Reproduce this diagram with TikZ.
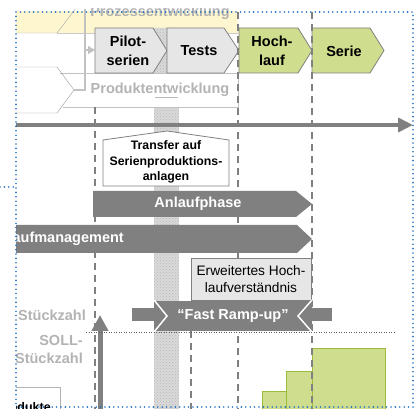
\documentclass[tikz,border=0pt]{standalone}
\usepackage{fontspec}
\setmainfont{Liberation Sans}
\usetikzlibrary{patterns}
\usetikzlibrary{calc}
\usetikzlibrary{arrows.meta}
\definecolor{dgray}{HTML}{808080}
\definecolor{lgray}{HTML}{B3B3B3}
\definecolor{boxgray}{HTML}{E6E6E6}
\definecolor{stagegreen}{HTML}{CFDD8E}
\definecolor{bargreen}{HTML}{9DBB3A}
\definecolor{pale}{HTML}{FDF6CE}
\definecolor{frameblue}{HTML}{1F6FC5}
\begin{document}
\begin{tikzpicture}[x=1pt,y=-1pt,
    stage/.style={draw=dgray,line width=0.8pt},
    big/.style={font=\bfseries\fontsize{14.5}{18.5}\selectfont,align=center,inner sep=0pt},
    small/.style={font=\bfseries\fontsize{12.3}{15.7}\selectfont,align=center,inner sep=0pt},
    milestone/.style={dgray,line width=1.3pt,dash pattern=on 7pt off 5pt}]
    \useasboundingbox (0,0) rectangle (416,409);
    \begin{scope}
        \clip (16,9) rectangle (416,409);
        \fill[pale] (10,11) rectangle (238,33);
        \draw[gray!70] (10,33) -- (57,33) -- (73,12) -- (75.3,9);
        \draw[lgray!70] (57,33) -- (238,33);
        \node[big,text=lgray,anchor=base] (prozess) at (160,16.7) {Prozessentwicklung};
        \fill[gray!30] (154,28) rectangle (179,409);
        \fill[pattern=crosshatch dots,pattern color=gray!55] (154,28) rectangle (179,409);
        \fill[white] (57,73) rectangle (238,107);
        \draw[gray!55] (155,97) -- (178,97);
        \draw[lgray!80] (60,73) -- (238,73) -- (238,107) -- (63,107);
        \draw[gray!80] (10,67) -- (57,67) -- (74,90) -- (57,113) -- (10,113);
        \coordinate (ltip) at (74,90);
        \coordinate (pilotin) at (95,50);
        \coordinate (bend) at (85,90);
        \draw[lgray!80,line width=1.5pt] (ltip) -- (bend) -- (85,9);
        \draw[lgray!80,line width=1.5pt,-{Triangle[length=7pt,width=8pt]}] (85,50) -- (pilotin);
        \node[big,text=lgray] (produkt) at (160,89.5) {Produktentwicklung};
        \draw[stage,fill=boxgray] (95,28) -- (153,28) -- (167,50.5) -- (153,73) -- (95,73) -- cycle;
        \draw[stage,fill=boxgray] (167,28) -- (224,28) -- (239,50.5) -- (224,73) -- (167,73) -- cycle;
        \draw[stage,fill=stagegreen] (239,28) -- (298,28) -- (312,50.5) -- (298,73) -- (239,73) -- cycle;
        \draw[stage,fill=stagegreen] (312,28) -- (370,28) -- (384,50.5) -- (370,73) -- (312,73) -- cycle;
        \node[big] (pilot) at (128,51) {Pilot-\\serien};
        \node[big] (tests) at (199,51) {Tests};
        \node[big] (hoch) at (272,51) {Hoch-\\lauf};
        \node[big] (serie) at (344,51) {Serie};
        \coordinate (tstart) at (10,125);
        \coordinate (tend) at (413,125);
        \draw[dgray,line width=4.5pt,-{Triangle[length=15pt,width=14pt]}] (tstart) -- (tend);
        \fill[stagegreen,draw=bargreen,line width=1pt] (262,392) rectangle (286,415);
        \fill[stagegreen,draw=bargreen,line width=1pt] (286,372) rectangle (312,415);
        \fill[stagegreen,draw=bargreen,line width=1pt] (312,349) rectangle (385,415);
        \draw[milestone] (95,107) -- (95,415);
        \draw[milestone] (238,12) -- (238,415);
        \draw[milestone] (312,12) -- (312,415);
        \draw[milestone] (191,331) -- (191,415);
        \draw[stage,fill=white] (103,186) -- (103,140) -- (167,131) -- (229,140) -- (229,186) -- cycle;
        \node[small] (transfer) at (166,162) {Transfer auf\\Serienproduktions-\\anlagen};
        \fill[dgray] (93,191) -- (296,191) -- (312,204) -- (296,217) -- (93,217) -- cycle;
        \node[big,text=white] (anlauf) at (198,204) {Anlaufphase};
        \fill[dgray] (0,225) -- (297,225) -- (312,239) -- (297,253) -- (0,253) -- cycle;
        \node[big,text=white,anchor=east] (management) at (124,239) {Anlaufmanagement};
        \draw[stage,fill=boxgray] (191,258) rectangle (311,300);
        \node[font=\fontsize{13.7}{17.7}\selectfont,align=center,inner sep=0pt] (verstaendnis) at (251,279) {Erweitertes Hoch-\\laufverständnis};
        \fill[dgray] (154,301) rectangle (312,331);
        \fill[dgray] (132,308) rectangle (154,321);
        \fill[dgray] (312,308) rectangle (332,321);
        \draw[white,line width=1.5pt] (154,300) -- (167,316) -- (154,332);
        \draw[white,line width=1.5pt] (312,300) -- (298,316) -- (312,332);
        \node[big,text=white] (ramp) at (233,316) {“Fast Ramp-up”};
        \node[big,text=lgray,anchor=base] (stueck) at (52,321) {Stückzahl};
        \node[big,text=lgray,align=right,anchor=base east] (soll) at (83,364) {SOLL-\\Stückzahl};
        \coordinate (ybot) at (100,420);
        \coordinate (ytop) at (100,315);
        \draw[dgray,line width=5pt,-{Triangle[length=16pt,width=16pt]}] (ybot) -- (ytop);
        \draw[gray!75!black,line width=1pt,dash pattern=on 1pt off 1.5pt] (86,333) -- (395,333);
        \draw[lgray] (16,387) -- (60,387) -- (60,415);
    \end{scope}
    \draw[frameblue,line width=1.8pt,line cap=round,dash pattern=on 0pt off 4.4pt] (16,12) rectangle (413,407);
    \draw[frameblue,line width=1.8pt,line cap=round,dash pattern=on 0pt off 4.4pt] (0,187) -- (16,187);
    \begin{scope}
        \clip (16,9) rectangle (416,409);
        \node[font=\bfseries\fontsize{12.5}{14}\selectfont,inner sep=0pt,anchor=base east] (produkte) at (51,412) {Produkte};
    \end{scope}
\end{tikzpicture}
\end{document}
